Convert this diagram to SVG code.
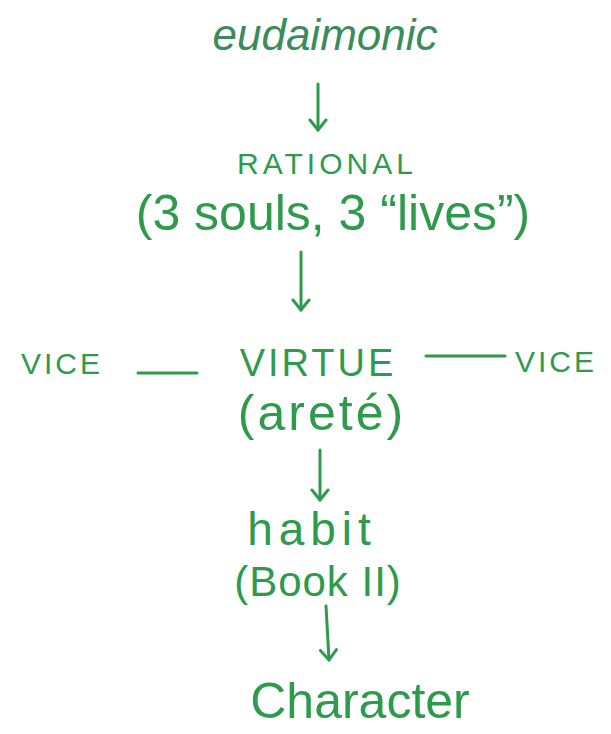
<svg xmlns="http://www.w3.org/2000/svg" width="611" height="734" viewBox="0 0 611 734">
<style>
.t{font-family:"Liberation Sans","DejaVu Sans",sans-serif;fill:#2e9a4c;text-anchor:middle}
.c{stroke:#2e9a4c;stroke-width:3;fill:none;stroke-linecap:round;stroke-linejoin:round}
</style>
<defs>
<marker id="ah" viewBox="0 0 20 20" refX="18" refY="10" markerWidth="20" markerHeight="20" markerUnits="userSpaceOnUse" orient="auto">
<polyline points="8,2 18,10 8,18" fill="none" stroke="#2e9a4c" stroke-width="3" stroke-linecap="round" stroke-linejoin="round"/>
</marker>
</defs>
<rect width="611" height="734" fill="#ffffff"/>
<g id="eudaimonic"><text class="t" x="325" y="50" font-size="44" style="fill:#3a8c5c;font-style:italic">eudaimonic</text></g>
<g id="rational">
<text class="t" x="327" y="174" font-size="30" letter-spacing="4">RATIONAL</text>
<text class="t" x="333" y="230" font-size="50">(3 souls, 3 “lives”)</text>
</g>
<g id="vice-left"><text class="t" x="62" y="374" font-size="30" letter-spacing="3">VICE</text></g>
<g id="virtue">
<text class="t" x="318" y="376" font-size="38" letter-spacing="3">VIRTUE</text>
<text class="t" x="322" y="430" font-size="50" letter-spacing="3">(areté)</text>
</g>
<g id="vice-right"><text class="t" x="556" y="372" font-size="30" letter-spacing="3">VICE</text></g>
<g id="habit">
<text class="t" x="312" y="545" font-size="46" letter-spacing="6">habit</text>
<text class="t" x="318" y="596" font-size="42" letter-spacing="1">(Book II)</text>
</g>
<g id="character"><text class="t" x="360" y="718" font-size="50">Character</text></g>
<g id="connectors">
<line class="c" x1="318" y1="84" x2="318" y2="130" marker-end="url(#ah)"/>
<line class="c" x1="301" y1="252" x2="301" y2="310" marker-end="url(#ah)"/>
<line class="c" x1="138" y1="373" x2="197" y2="373"/>
<line class="c" x1="426" y1="356" x2="505" y2="356"/>
<line class="c" x1="320" y1="450" x2="320" y2="500" marker-end="url(#ah)"/>
<line class="c" x1="326" y1="606" x2="329" y2="660" marker-end="url(#ah)"/>
</g>
</svg>
